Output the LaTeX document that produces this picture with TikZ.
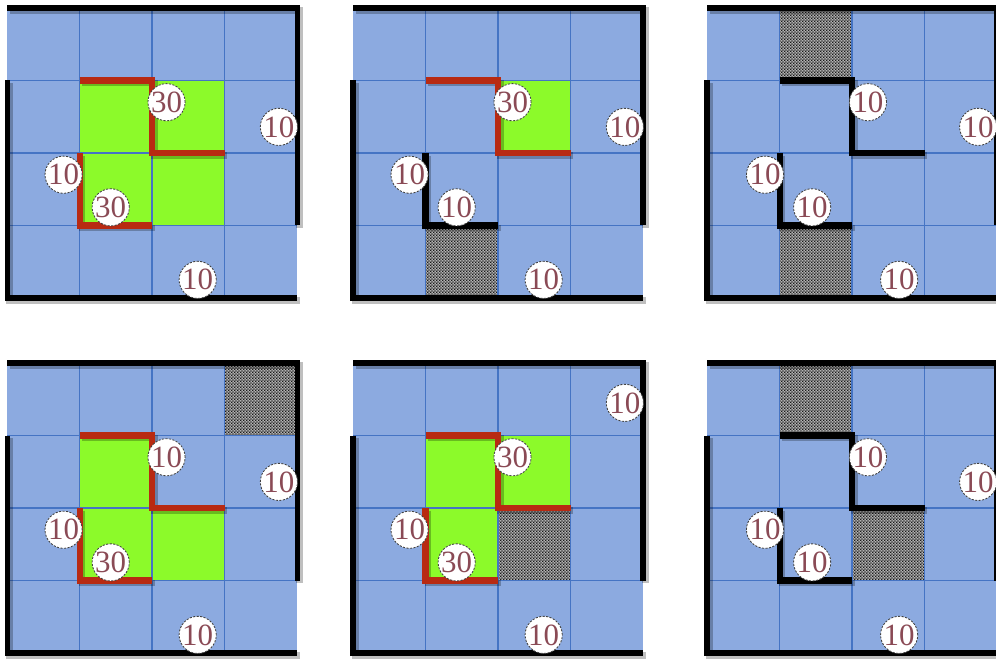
\documentclass[tikz,border=0pt]{standalone}
\usepackage{fontspec}
\setmainfont{Liberation Serif}
\usetikzlibrary{patterns.meta}
\definecolor{cellblue}{HTML}{8CAAE0}
\definecolor{gridblue}{HTML}{4574C4}
\definecolor{roomgreen}{HTML}{8CFA2A}
\definecolor{wallred}{HTML}{B82A12}
\definecolor{tagtext}{HTML}{8A4A55}

\tikzdeclarepattern{
  name=fineboard,
  type=uncolored,
  bounding box={(0pt,0pt) and (2pt,2pt)},
  tile size={(2pt,2pt)},
  code={
    \fill (0pt,0pt) rectangle (1pt,1pt);
    \fill (1pt,1pt) rectangle (2pt,2pt);
  }
}

\tikzset{
  gridline/.style={gridblue, line width=0.8pt},
  wallshadow/.style={black, opacity=0.25, line width=4.5pt, shift={(0.035,0.035)}},
  outerwall/.style={black, line width=3.6pt},
  innerwall/.style={line width=4.3pt, line join=miter},
  blocked/.style={preaction={fill=black!30}, pattern=fineboard, pattern color=black!90},
  tag/.style={circle, draw=black!75, dash pattern=on 1.5pt off 1pt, line width=0.6pt,
    fill=white, inner sep=0pt, minimum size=8.4mm,
    font=\fontsize{22}{22}\selectfont, text=tagtext}
}

% grid, border and the two step walls of one panel
\newcommand{\mazewalls}[2]{%
  \foreach \i in {1,2,3} {
    \draw[gridline] (\i,0) -- (\i,4);
    \draw[gridline] (0,\i) -- (4,\i);
  }
  \draw[wallshadow] (0,1) -- (0,4) -- (4,4);
  \draw[wallshadow] (0,0) -- (4,0) -- (4,3);
  \draw[wallshadow] (1,1) -- (2,1) -- (2,2) -- (3,2);
  \draw[wallshadow] (1,2) -- (1,3) -- (2,3);
  \draw[outerwall] (0,1) -- (0,4) -- (4,4);
  \draw[outerwall] (0,0) -- (4,0) -- (4,3);
  \draw[innerwall, #1] (1,1) -- (2,1) -- (2,2) -- (3,2);
  \draw[innerwall, #2] (1,2) -- (1,3) -- (2,3);
}

\begin{document}
\begin{tikzpicture}[x=18.125mm, y=-18.125mm]
  \useasboundingbox (0,0) rectangle (13.738,9.076);
  \clip (0,0) rectangle (13.738,9.076);

  % top row
  \begin{scope}[shift={(0.097,0.110)}]
    \fill[cellblue] (0,0) rectangle (4,4);
    \foreach \c/\r in {1/1,2/1,1/2,2/2}
      \fill[roomgreen] (\c,\r) rectangle ++(1,1);
    \mazewalls{wallred}{wallred}
    \foreach \x/\y/\t [count=\k] in {2.2/1.3/30, 3.75/1.64/10, 0.78/2.3/10, 1.43/2.75/30, 2.63/3.75/10}
      \node[tag] (a\k) at (\x,\y) {\t};
  \end{scope}

  \begin{scope}[shift={(4.869,0.110)}]
    \fill[cellblue] (0,0) rectangle (4,4);
    \fill[roomgreen] (2,1) rectangle ++(1,1);
    \path[blocked] (1,3) rectangle ++(1,1);
    \mazewalls{wallred}{black}
    \foreach \x/\y/\t [count=\k] in {2.2/1.3/30, 3.75/1.64/10, 0.78/2.3/10, 1.43/2.75/10, 2.63/3.75/10}
      \node[tag] (b\k) at (\x,\y) {\t};
  \end{scope}

  \begin{scope}[shift={(9.752,0.110)}]
    \fill[cellblue] (0,0) rectangle (4,4);
    \foreach \c/\r in {1/0,1/3}
      \path[blocked] (\c,\r) rectangle ++(1,1);
    \mazewalls{black}{black}
    \foreach \x/\y/\t [count=\k] in {2.22/1.3/10, 3.74/1.64/10, 0.8/2.3/10, 1.45/2.75/10, 2.65/3.75/10}
      \node[tag] (c\k) at (\x,\y) {\t};
  \end{scope}

  % bottom row
  \begin{scope}[shift={(0.097,5.007)}]
    \fill[cellblue] (0,0) rectangle (4,4);
    \foreach \c/\r in {1/1,1/2,2/2}
      \fill[roomgreen] (\c,\r) rectangle ++(1,1);
    \path[blocked] (3,0) rectangle ++(1,1);
    \mazewalls{wallred}{wallred}
    \foreach \x/\y/\t [count=\k] in {2.2/1.3/10, 3.75/1.64/10, 0.78/2.3/10, 1.43/2.75/30, 2.63/3.75/10}
      \node[tag] (d\k) at (\x,\y) {\t};
  \end{scope}

  \begin{scope}[shift={(4.869,5.007)}]
    \fill[cellblue] (0,0) rectangle (4,4);
    \foreach \c/\r in {1/1,2/1,1/2}
      \fill[roomgreen] (\c,\r) rectangle ++(1,1);
    \path[blocked] (2,2) rectangle ++(1,1);
    \mazewalls{wallred}{wallred}
    \foreach \x/\y/\t [count=\k] in {2.2/1.3/30, 3.75/0.55/10, 0.78/2.3/10, 1.43/2.75/30, 2.63/3.75/10}
      \node[tag] (e\k) at (\x,\y) {\t};
  \end{scope}

  \begin{scope}[shift={(9.752,5.007)}]
    \fill[cellblue] (0,0) rectangle (4,4);
    \foreach \c/\r in {1/0,2/2}
      \path[blocked] (\c,\r) rectangle ++(1,1);
    \mazewalls{black}{black}
    \foreach \x/\y/\t [count=\k] in {2.22/1.3/10, 3.74/1.64/10, 0.8/2.3/10, 1.45/2.75/10, 2.65/3.75/10}
      \node[tag] (f\k) at (\x,\y) {\t};
  \end{scope}
\end{tikzpicture}
\end{document}
